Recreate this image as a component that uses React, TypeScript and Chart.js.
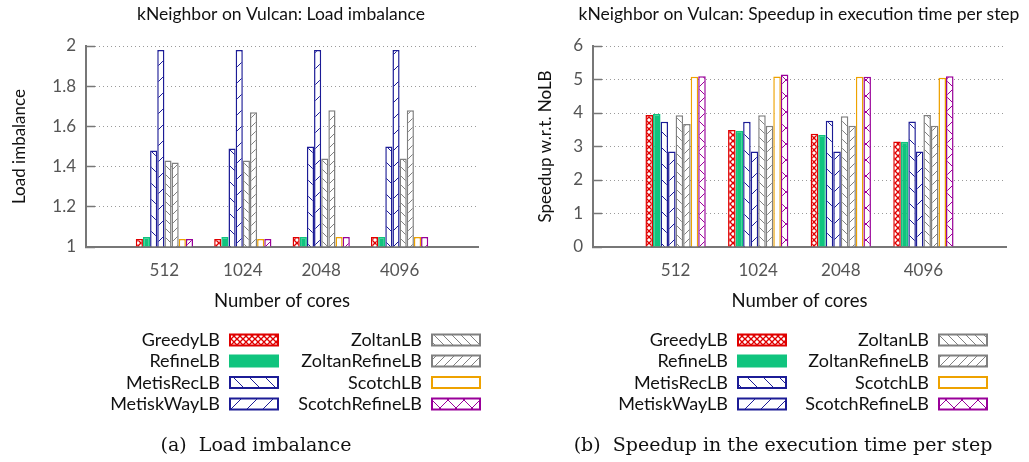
import React, { useEffect, useRef } from 'react';
import { Chart, registerables } from 'chart.js';
Chart.register(...registerables);

// ---------- data ----------
const categories = ['512', '1024', '2048', '4096'];
const seriesNames = ['GreedyLB', 'RefineLB', 'MetisRecLB', 'MetiskWayLB', 'ZoltanLB', 'ZoltanRefineLB', 'ScotchLB', 'ScotchRefineLB'];

// Load imbalance
const imbGreedy = [1.04, 1.04, 1.05, 1.05];
const imbRefine = [1.05, 1.05, 1.05, 1.05];
const imbMetisRec = [1.48, 1.49, 1.5, 1.5];
const imbMetisKWay = [1.98, 1.98, 1.98, 1.98];
const imbZoltan = [1.43, 1.43, 1.44, 1.44];
const imbZoltanRefine = [1.42, 1.67, 1.68, 1.68];
const imbScotch = [1.04, 1.04, 1.05, 1.05];
const imbScotchRefine = [1.04, 1.04, 1.05, 1.05];

// Speedup w.r.t. NoLB
const spdGreedy = [3.94, 3.49, 3.38, 3.15];
const spdRefine = [3.97, 3.47, 3.34, 3.14];
const spdMetisRec = [3.74, 3.74, 3.77, 3.75];
const spdMetisKWay = [2.85, 2.85, 2.85, 2.85];
const spdZoltan = [3.93, 3.93, 3.9, 3.94];
const spdZoltanRefine = [3.67, 3.62, 3.62, 3.62];
const spdScotch = [5.08, 5.09, 5.08, 5.05];
const spdScotchRefine = [5.1, 5.15, 5.08, 5.1];

const imbSeries = [imbGreedy, imbRefine, imbMetisRec, imbMetisKWay, imbZoltan, imbZoltanRefine, imbScotch, imbScotchRefine];
const spdSeries = [spdGreedy, spdRefine, spdMetisRec, spdMetisKWay, spdZoltan, spdZoltanRefine, spdScotch, spdScotchRefine];

const imbTicks = { min: 1, max: 2, step: 0.2 };
const spdTicks = { min: 0, max: 6, step: 1 };

// ---------- styles ----------
const RED = '#e00000';
const GREEN = '#10c47e';
const NAVY = '#1c1c96';
const GREY = '#808080';
const ORANGE = '#eea200';
const PURPLE = '#990099';

const seriesStyle = [
  { color: RED, pat: 'cross', size: 6 },
  { color: GREEN, pat: 'solid', size: 0 },
  { color: NAVY, pat: 'back', size: 16 },
  { color: NAVY, pat: 'fwd', size: 16 },
  { color: GREY, pat: 'back', size: 9 },
  { color: GREY, pat: 'fwd', size: 9 },
  { color: ORANGE, pat: 'none', size: 0 },
  { color: PURPLE, pat: 'x', size: 16 },
];

function makeFill(pat: string, color: string, s: number): any {
  if (pat === 'solid') return color;
  if (pat === 'none') return '#ffffff';
  const c = document.createElement('canvas');
  c.width = s;
  c.height = s;
  const g = c.getContext('2d')!;
  g.fillStyle = '#ffffff';
  g.fillRect(0, 0, s, s);
  g.strokeStyle = color;
  g.lineWidth = pat === 'cross' ? 1.3 : 1;
  const back = () => {
    for (const k of [-s, 0, s]) {
      g.beginPath();
      g.moveTo(k, 0);
      g.lineTo(k + s, s);
      g.stroke();
    }
  };
  const fwd = () => {
    for (const k of [-s, 0, s]) {
      g.beginPath();
      g.moveTo(k, s);
      g.lineTo(k + s, 0);
      g.stroke();
    }
  };
  if (pat === 'back') back();
  else if (pat === 'fwd') fwd();
  else {
    back();
    fwd();
  }
  return g.createPattern(c, 'repeat');
}

const FONT = 'Lato';

type PanelCfg = {
  left: number;
  width: number;
  series: number[][];
  ticks: { min: number; max: number; step: number };
  yTitle: string;
  title: string;
  titleX: number;
  caption: string;
  capX: number;
  yAxisWidth: number;
  padRight: number;
  yTitlePad: number;
  legTextX: number[];
  legSwX: number[];
};

const panels: PanelCfg[] = [
  {
    left: 0,
    width: 514,
    series: imbSeries,
    ticks: imbTicks,
    yTitle: 'Load imbalance',
    title: 'kNeighbor on Vulcan: Load imbalance',
    titleX: 281,
    caption: '(a)  Load imbalance',
    capX: 256,
    yAxisWidth: 86,
    padRight: 36,
    yTitlePad: 9,
    legTextX: [220, 422],
    legSwX: [230, 432],
  },
  {
    left: 514,
    width: 515,
    series: spdSeries,
    ticks: spdTicks,
    yTitle: 'Speedup w.r.t. NoLB',
    title: 'kNeighbor on Vulcan: Speedup in execution time per step',
    titleX: 285,
    caption: '(b)  Speedup in the execution time per step',
    capX: 269,
    yAxisWidth: 79,
    padRight: 23,
    yTitlePad: 21,
    legTextX: [214, 415],
    legSwX: [224, 425],
  },
];

const LEG_ROWS = [340, 361, 382.5, 404];

function Panel({ cfg }: { cfg: PanelCfg }) {
  const ref = useRef<HTMLCanvasElement | null>(null);
  useEffect(() => {
    const canvas = ref.current!;
    const H = 462;
    const xAxisH = 65;
    const datasets = cfg.series.map((vals, i) => {
      const st = seriesStyle[i];
      return {
        label: seriesNames[i],
        data: [null, ...vals, null],
        backgroundColor: makeFill(st.pat, st.color, st.size),
        borderColor: st.color,
        borderWidth: 1.5,
        base: cfg.ticks.min,
        categoryPercentage: 0.73,
        barPercentage: 1,
      };
    });
    const deco = {
      id: 'deco',
      afterDraw(chart: any) {
        const ctx = chart.ctx as CanvasRenderingContext2D;
        ctx.save();
        ctx.fillStyle = '#111111';
        ctx.textBaseline = 'middle';
        ctx.textAlign = 'center';
        ctx.font = `17.5px ${FONT}`;
        ctx.fillText(cfg.title, cfg.titleX, 14);
        // legend
        ctx.font = `18px ${FONT}`;
        ctx.textAlign = 'right';
        chart.data.datasets.forEach((ds: any, i: number) => {
          const col = i < 4 ? 0 : 1;
          const y = LEG_ROWS[i % 4];
          ctx.fillStyle = '#111111';
          ctx.fillText(ds.label, cfg.legTextX[col], y + 0.5);
          const x = cfg.legSwX[col];
          ctx.fillStyle = ds.backgroundColor;
          ctx.fillRect(x, y - 5.5, 48, 11);
          ctx.strokeStyle = ds.borderColor;
          ctx.lineWidth = 2;
          ctx.strokeRect(x, y - 5.5, 48, 11);
        });
        // caption
        ctx.fillStyle = '#111111';
        ctx.textAlign = 'center';
        ctx.font = `19px "DejaVu Serif"`;
        ctx.fillText(cfg.caption, cfg.capX, 446);
        ctx.restore();
      },
    };
    const chart = new Chart(canvas, {
      type: 'bar',
      data: { labels: ['', ...categories, ''], datasets: datasets as any },
      options: {
        responsive: false,
        animation: false,
        devicePixelRatio: 1,
        layout: { padding: { left: 0, right: cfg.padRight, top: 46, bottom: H - 247 - xAxisH } },
        plugins: { legend: { display: false }, title: { display: false }, tooltip: { enabled: false } },
        scales: {
          x: {
            type: 'category',
            offset: false,
            grid: { display: false, drawTicks: false },
            border: { display: true, color: '#777777', width: 2 },
            ticks: { autoSkip: false, maxRotation: 0, padding: 13, color: '#555555', font: { family: FONT, size: 17 } },
            title: { display: true, text: 'Number of cores', color: '#111111', font: { family: FONT, size: 18.5 }, padding: { top: 0, bottom: 0 } },
            afterFit: (s: any) => {
              s.height = xAxisH;
            },
          },
          y: {
            min: cfg.ticks.min,
            max: cfg.ticks.max,
            grid: { color: '#9a9a9a', lineWidth: 1, drawTicks: true, tickLength: -9, tickColor: '#777777', tickWidth: 1.5, tickBorderDash: [] },
            border: { display: true, color: '#777777', width: 2, dash: [1, 3] },
            ticks: {
              stepSize: cfg.ticks.step,
              padding: 19,
              color: '#555555',
              font: { family: FONT, size: 17 },
              callback: (v: any) => String(Number(Number(v).toFixed(2))),
            },
            title: { display: true, text: cfg.yTitle, color: '#111111', font: { family: FONT, size: 17 }, padding: { top: cfg.yTitlePad, bottom: 0 } },
            afterFit: (s: any) => {
              s.width = cfg.yAxisWidth;
            },
          },
        },
      } as any,
      plugins: [deco],
    });
    return () => chart.destroy();
  }, [cfg]);
  return (
    <canvas
      ref={ref}
      width={cfg.width}
      height={462}
      style={{ position: 'absolute', left: cfg.left, top: 0, width: cfg.width, height: 462 }}
    />
  );
}

export default function App() {
  return (
    <div style={{ position: 'fixed', left: 0, top: 0, width: 1029, height: 462, background: '#ffffff', overflow: 'hidden' }}>
      {panels.map((p, i) => (
        <Panel key={i} cfg={p} />
      ))}
    </div>
  );
}
